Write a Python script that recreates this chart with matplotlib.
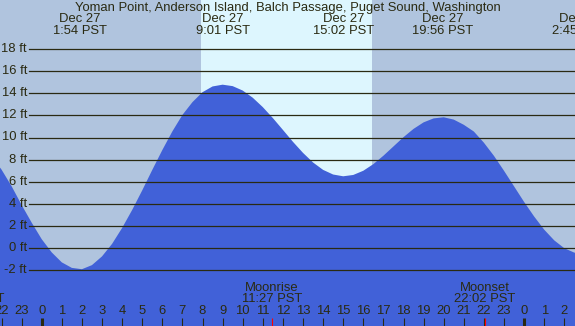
import matplotlib
matplotlib.use("Agg")
import matplotlib.pyplot as plt
import matplotlib.transforms as mtransforms

# ---------------- data ----------------
title = "Yoman Point, Anderson Island, Balch Passage, Puget Sound, Washington"

# hours relative to midnight starting Dec 27
tide_hours = [-2.5, -2.0, -1.5, -1.0, -0.5, 0.0, 0.5, 1.0, 1.5, 2.0,
              2.5, 3.0, 3.5, 4.0, 4.5, 5.0, 5.5, 6.0, 6.5, 7.0,
              7.5, 8.0, 8.5, 9.0, 9.5, 10.0, 10.5, 11.0, 11.5, 12.0,
              12.5, 13.0, 13.5, 14.0, 14.5, 15.0, 15.5, 16.0, 16.5, 17.0,
              17.5, 18.0, 18.5, 19.0, 19.5, 20.0, 20.5, 21.0, 21.5, 22.0,
              22.5, 23.0, 23.5, 24.0, 24.5, 25.0, 25.5, 26.0, 26.5, 27.0]
tide_feet = [8.3, 7.1, 5.6, 3.9, 2.3, 0.8, -0.4, -1.3, -1.8, -1.92,
             -1.55, -0.76, 0.37, 1.81, 3.44, 5.21, 7.06, 8.86, 10.55, 12.04,
             13.2, 14.1, 14.62, 14.78, 14.65, 14.25, 13.6, 12.75, 11.76, 10.69,
             9.61, 8.61, 7.74, 7.07, 6.65, 6.49, 6.61, 6.99, 7.59, 8.35,
             9.19, 10.03, 10.78, 11.37, 11.73, 11.83, 11.62, 11.15, 10.54, 9.53,
             8.34, 6.99, 5.58, 4.17, 2.85, 1.66, 0.69, -0.02, -0.42, -0.5]

extreme_hours = [1.9, 9.017, 15.033, 19.933, 26.75]
extreme_dates = ["Dec 27", "Dec 27", "Dec 27", "Dec 27", "Dec 28"]
extreme_times = ["1:54 PST", "9:01 PST", "15:02 PST", "19:56 PST", "2:45 PST"]

sunrise_hour = 7.93   # 7:56
sunset_hour = 16.43   # 16:26

moon_hours = [-3.37, 11.45, 22.033]
moon_events = ["Moonset", "Moonrise", "Moonset"]
moon_times = ["20:38 PST", "11:27 PST", "22:02 PST"]

grid_levels = [-2, 0, 2, 4, 6, 8, 10, 12, 14, 16, 18]
grid_labels = ["-2 ft", "0 ft", "2 ft", "4 ft", "6 ft", "8 ft", "10 ft",
               "12 ft", "14 ft", "16 ft", "18 ft"]

hour_ticks = list(range(-2, 27))
hour_labels = [str(h % 24) for h in hour_ticks]

# ---------------- style ----------------
night_col = "#B0C4DE"
day_col = "#DDF6FE"
water_col = "#4161D8"
ink = "#2A2A12"
FS = 9.4
plt.rcParams['font.family'] = ['Liberation Sans', 'DejaVu Sans']

W, H = 575, 326
fig = plt.figure(figsize=(W / 100, H / 100), dpi=100)
fig.patch.set_facecolor(night_col)
ax = fig.add_axes([0, 0, 1, 1])
ax.set_facecolor(night_col)
for s in ax.spines.values():
    s.set_visible(False)
ax.set_xticks([])
ax.set_yticks([])

# pixel mapping: x = 41.7 + 20.1*h ; y(top) = 248 - 11.05*ft
px_per_hr = 20.1
x0 = 41.7
x_left = -x0 / px_per_hr
x_right = (W - x0) / px_per_hr
px_per_ft = 11.05
y_zero_from_bottom = H - 248
y_bot = -y_zero_from_bottom / px_per_ft
y_top = (H - y_zero_from_bottom) / px_per_ft
ax.set_xlim(x_left, x_right)
ax.set_ylim(y_bot, y_top)

ax.axvspan(sunrise_hour, sunset_hour, color=day_col, lw=0, zorder=0)
ax.fill_between(tide_hours, y_bot, tide_feet, color=water_col, lw=0, zorder=1)

for lev, lab in zip(grid_levels, grid_labels):
    ax.axhline(lev, xmin=29 / W, xmax=1, color=ink, lw=0.9, zorder=2)
    ax.text(27 / W, lev, lab, transform=mtransforms.blended_transform_factory(ax.transAxes, ax.transData),
            ha='right', va='center', fontsize=FS, color=ink, zorder=3)

# title and tide extreme labels
def ytop(px):
    return 1 - px / H

ax.text(0.5, ytop(7.5), title, transform=ax.transAxes, ha='center', va='center',
        fontsize=FS, color=ink)
bt = mtransforms.blended_transform_factory(ax.transData, ax.transAxes)
for h, d, t in zip(extreme_hours, extreme_dates, extreme_times):
    ax.text(h, ytop(19.5), d, transform=bt, ha='center', va='center', fontsize=FS, color=ink)
    ax.text(h, ytop(31.5), t, transform=bt, ha='center', va='center', fontsize=FS, color=ink)

# moon labels
for h, ev, t in zip(moon_hours, moon_events, moon_times):
    ax.text(h, ytop(288), ev, transform=bt, ha='center', va='center', fontsize=FS, color=ink, zorder=4)
    ax.text(h, ytop(299.5), t, transform=bt, ha='center', va='center', fontsize=FS, color=ink, zorder=4)

# hour ticks and labels
for h, lab in zip(hour_ticks, hour_labels):
    ax.text(h, ytop(311.5), lab, transform=bt, ha='center', va='center', fontsize=FS, color=ink, zorder=4)
    lw = 2.2 if h % 24 == 0 else 0.8
    ax.vlines(h, 0, 1 - 318 / H, transform=bt, color=ink, lw=lw, zorder=4)
for h in moon_hours:
    ax.vlines(h, 0, 1 - 318 / H, transform=bt, color='red', lw=0.8, zorder=5)

fig.savefig("out.png", dpi=100, facecolor=night_col)
